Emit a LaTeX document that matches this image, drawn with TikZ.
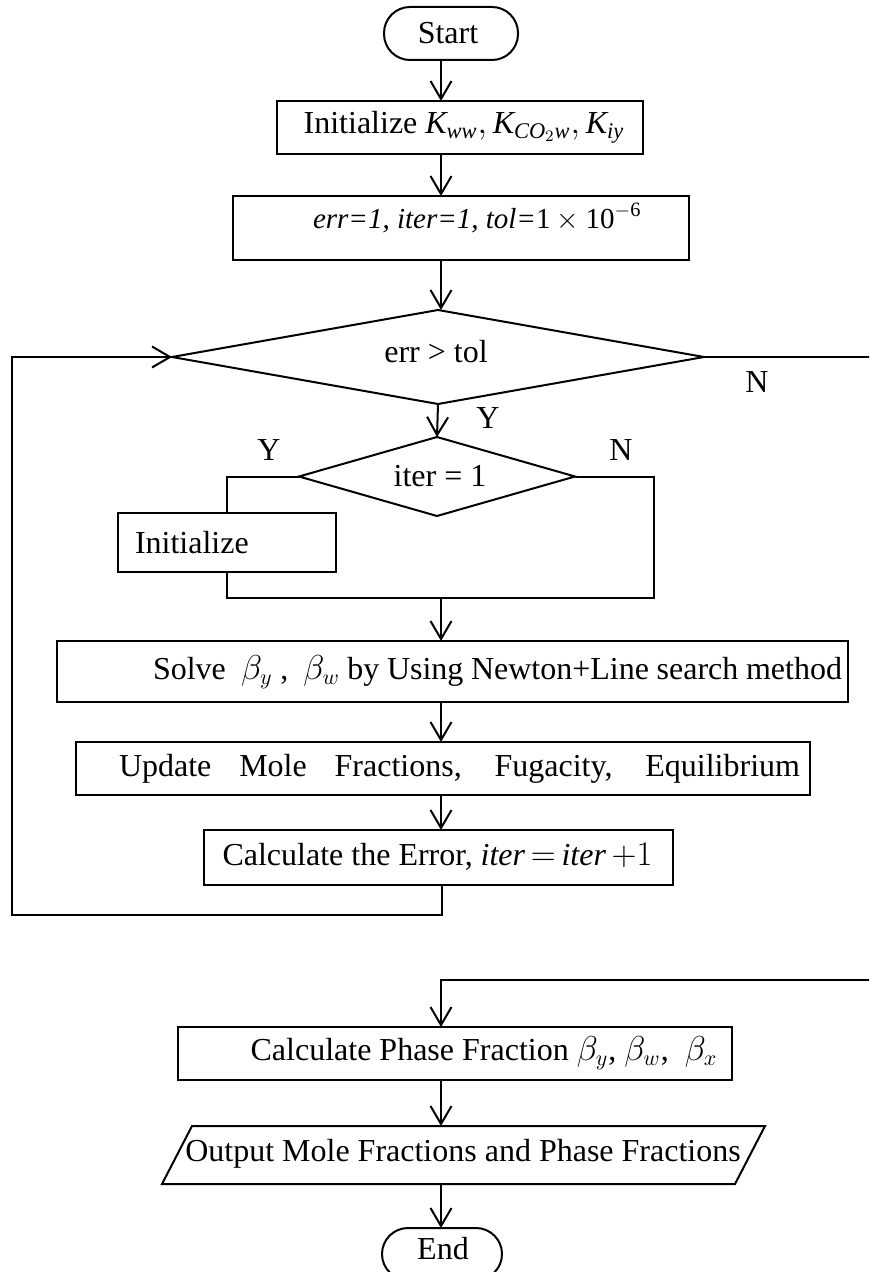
\documentclass[tikz,border=0pt]{standalone}
\usepackage{fontspec}
\setmainfont{Liberation Serif}
\usetikzlibrary{arrows.meta,shapes.geometric,calc}
\begin{document}
\begin{tikzpicture}[x=0.5pt,y=-0.5pt,
  every node/.style={font=\fontsize{16}{19}\selectfont, inner sep=0pt, outer sep=0pt},
  boxnode/.style={draw, line width=1pt, rectangle},
  term/.style={draw, line width=1pt, rectangle, rounded corners=13pt},
  dec/.style={draw, line width=1pt, diamond, aspect=3},
  txt/.style={},
  conn/.style={line width=1pt},
  arr/.style={line width=1pt, -{Straight Barb[length=9pt,width=10.5pt,line width=1pt]}}]
\useasboundingbox (0,0) rectangle (869,1272);
\clip (0,0) rectangle (869,1272);
\fill[white] (0,0) rectangle (869,1272);

% spine coordinate
\coordinate (sp) at (441,0);

% nodes
\node[term, minimum width=67pt, minimum height=26.5pt] (start) at (451,33.5) {};
\node[txt] (starttxt) at (448,33) {Start};
\node[boxnode, minimum width=183pt, minimum height=26.5pt] (init) at (460,127.5) {};
\node[txt] (inittxt) at (464,127) {Initialize $\mathit{K}_{\mathit{ww}}, \mathit{K}_{\mathit{CO}_2\mathit{w}}, \mathit{K}_{\mathit{iy}}$};
\node[boxnode, minimum width=228pt, minimum height=32pt] (errbox) at (461,228) {};
\node[txt, anchor=west, font=\fontsize{14.5}{17}\selectfont] (errtxt) at (313,218) {\textit{err=1, iter=1, tol=}$\mathrm{1}\times\mathrm{10}^{-\mathrm{6}}$};
\node[dec, minimum width=266pt, minimum height=47pt] (d1) at (438,357) {};
\node[txt] (d1txt) at (436,352) {err > tol};
\node[dec, minimum width=138pt, minimum height=39.5pt] (d2) at (437,476.5) {};
\node[txt] (d2txt) at (440,476) {iter = 1};
\node[boxnode, minimum width=109pt, minimum height=29.5pt] (initb) at (227,542.5) {};
\node[txt, anchor=west] (initbtxt) at (135,543) {Initialize};
\node[boxnode, minimum width=395.5pt, minimum height=30.5pt] (solve) at (452.5,671.5) {};
\node[txt] (solvetxt) at (497.5,672) {\makebox[344.5pt][s]{Solve\ \ $\beta_y$\ ,\ \ $\beta_w$\ by Using Newton+Line search method}};
\node[boxnode, minimum width=367pt, minimum height=26.5pt] (update) at (443,768.5) {};
\node[txt] (updatetxt) at (459.5,769) {\makebox[340.5pt][s]{Update Mole Fractions, Fugacity, Equilibrium}};
\node[boxnode, minimum width=234.5pt, minimum height=27.5pt] (calcerr) at (438.5,857.5) {};
\node[txt] (calcerrtxt) at (437.5,857) {Calculate the Error,\ $\mathit{iter}\,{=}\,\mathit{iter}\,{+}1$};
\node[boxnode, minimum width=277pt, minimum height=26.5pt] (phase) at (455,1053.5) {};
\node[txt] (phasetxt) at (484,1053) {Calculate Phase Fraction $\beta_y$, $\beta_w$,\ \ $\beta_x$};
\node[minimum width=286.5pt, minimum height=29pt] (output) at (463.5,1155) {};
\draw[line width=1pt] ($(output.north west)+(15,0)$) -- ($(output.north east)+(15,0)$)
  -- ($(output.south east)+(-15,0)$) -- ($(output.south west)+(-15,0)$) -- cycle;
\node[txt] (outputtxt) at (463,1154) {Output Mole Fractions and Phase Fractions};
\node[term, minimum width=60pt, minimum height=26pt] (end) at (442,1254) {};
\node[txt] (endtxt) at (443,1249) {End};

% labels
\node[txt] (lY1) at (488,418) {Y};
\node[txt] (lN1) at (757,382) {N};
\node[txt] (lY2) at (269,450) {Y};
\node[txt] (lN2) at (621,450) {N};

% helper coordinates
\coordinate (rb) at (654,598);
\coordinate (mg) at (441,598);
\coordinate (fb1) at (442,915);
\coordinate (fb2) at (12,915);
\coordinate (nr1) at (885,980);
\coordinate (nr2) at (441,980);

% connectors
\draw[arr] (start.south -| sp) -- (init.north -| sp);
\draw[arr] (init.south -| sp) -- (errbox.north -| sp);
\draw[arr] (errbox.south -| sp) -- (d1.north -| sp);
\draw[arr] (d1.south) -- (d2.north);
\draw[conn] (d2.west) -| (initb.north);
\draw[conn] (initb.south) |- (rb) |- (d2.east);
\draw[arr] (mg) -- (solve.north -| mg);
\draw[arr] (solve.south -| sp) -- (update.north -| sp);
\draw[arr] (update.south -| sp) -- (calcerr.north -| sp);
\draw[arr] (calcerr.south -| fb1) -- (fb1) -- (fb2) |- (d1.west);
\draw[arr] (d1.east) -| (nr1) -- (nr2) -- (phase.north -| nr2);
\draw[arr] (phase.south -| sp) -- (output.north -| sp);
\draw[arr] (output.south -| sp) -- (end.north -| sp);
\end{tikzpicture}
\end{document}
